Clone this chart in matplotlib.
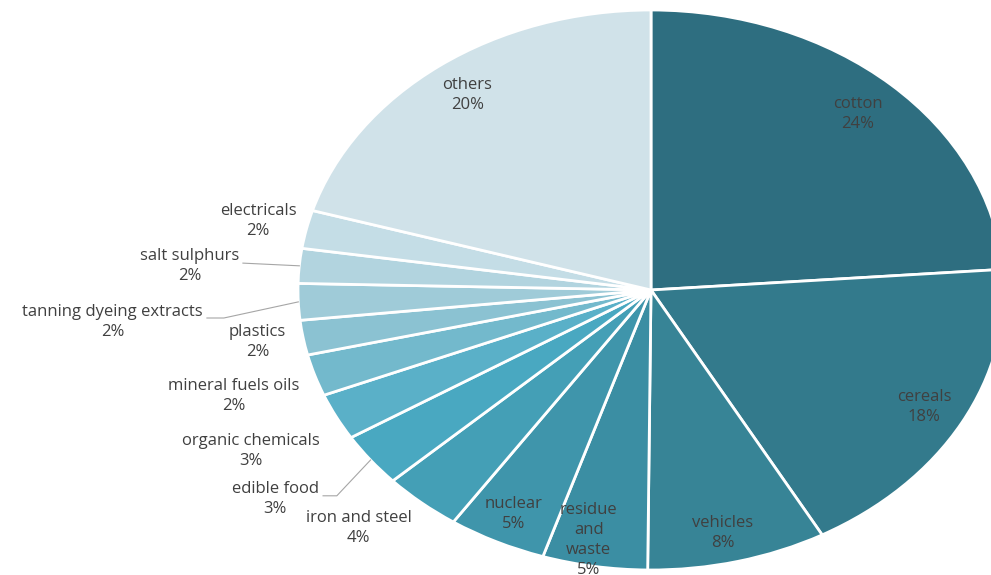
import numpy as np
import matplotlib
matplotlib.use('Agg')
import matplotlib.pyplot as plt

# data (share of exports, %)
categories = ['cotton', 'cereals', 'vehicles', 'residue\nand\nwaste', 'nuclear',
              'iron and steel', 'edible food', 'organic chemicals',
              'mineral fuels oils', 'plastics', 'tanning dyeing extracts',
              'salt sulphurs', 'electricals', 'others']
shares = [23.8, 18.1, 8.2, 4.8, 4.5, 3.6, 3.1, 2.7, 2.4, 2.0, 2.1, 2.0, 2.2, 20.4]
pct_labels = ['24%', '18%', '8%', '5%', '5%', '4%', '3%', '3%', '2%', '2%', '2%',
              '2%', '2%', '20%']

colors = ['#2e6e80', '#337a8c', '#378496', '#3b8ea3', '#3f95ab', '#449fb6',
          '#49a8c1', '#5ab0c8', '#73b9cc', '#8bc2d2', '#9fcbd8', '#b2d4df',
          '#c4dde6', '#d0e2e9']

# label placement (radius relative to pie, angle nudge in degrees)
label_r = [0.86, 0.88, 0.89, 0.91, 0.89, 1.187, 1.30, 1.27, 1.24, 1.13, 1.53, 1.31, 1.14, 0.87]
label_dang = [0, 0, -1, -2, 0, -3.7, -2.4, 0, 0, -0.4, 1.8, 1.2, 0, 0]

plt.rcParams['font.family'] = ['Open Sans', 'DejaVu Sans']

fig = plt.figure(figsize=(9.91, 5.75), dpi=100)
ax = fig.add_axes([0, 0, 1, 1])
wedges, _ = ax.pie(shares, colors=colors, startangle=90, counterclock=False,
                   wedgeprops=dict(edgecolor='white', linewidth=2))
ax.set_aspect('auto')
ax.set_xlim(-651 / 353, 340 / 353)
ax.set_ylim(-285 / 280, 290 / 280)
ax.axis('off')

for w, name, pct, r, da in zip(wedges, categories, pct_labels, label_r, label_dang):
    mid = np.deg2rad((w.theta1 + w.theta2) / 2 + da)
    x, y = r * np.cos(mid), r * np.sin(mid)
    ax.text(x, y, name + '\n' + pct, ha='center', va='center', fontsize=12,
            color='#404040', linespacing=1.33)

# leader lines for the crowded outside labels
m = {w_name: w for w_name, w in zip(categories, wedges)}
def edge(name):
    w = m[name]
    a = np.deg2rad((w.theta1 + w.theta2) / 2)
    return np.cos(a), np.sin(a)

ex, ey = edge('salt sulphurs')
ax.plot([-1.156, ex], [0.096, ey], color='#a6a6a6', lw=0.8)
ex, ey = edge('tanning dyeing extracts')
ax.plot([-1.258, -1.21, ex], [-0.1, -0.1, ey], color='#a6a6a6', lw=0.8)
ex, ey = edge('edible food')
ax.plot([-0.929, -0.89, ex], [-0.735, -0.735, ey], color='#a6a6a6', lw=0.8)

fig.savefig('out.png', dpi=100)
